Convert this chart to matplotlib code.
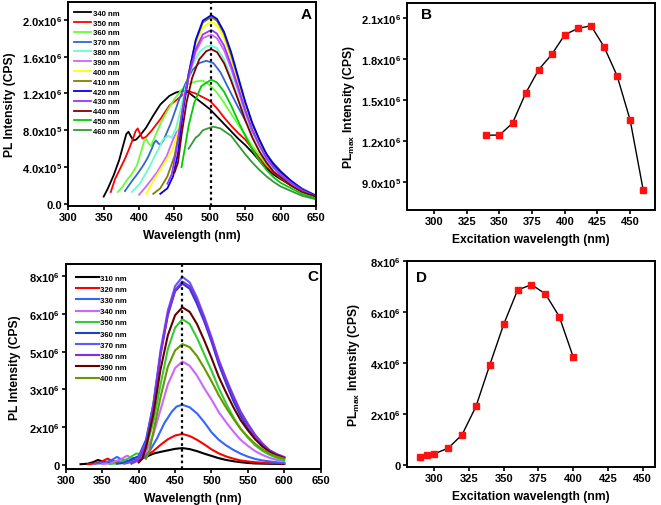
import matplotlib
import numpy as np

matplotlib.use("Agg")
import matplotlib.pyplot as plt  # noqa: E402

plt.rcParams["font.family"] = ["Liberation Sans", "DejaVu Sans"]
plt.rcParams["font.weight"] = "bold"
plt.rcParams["mathtext.fontset"] = "custom"
plt.rcParams["mathtext.rm"] = "Liberation Sans:bold"
plt.rcParams["mathtext.bf"] = "Liberation Sans:bold"
plt.rcParams["mathtext.it"] = "Liberation Sans:bold"
plt.rcParams["mathtext.default"] = "bf"

SCALE = 1e6

# ---- panel A: emission spectra, (wavelength nm, intensity x1e6) ----
a340 = [(350, 0.08), (356, 0.17), (364, 0.31), (372, 0.48), (378, 0.65), (382, 0.76), (385, 0.785),
        (388, 0.74), (392, 0.69), (396, 0.70), (401, 0.74), (410, 0.83), (420, 0.96), (430, 1.08),
        (443, 1.175), (452, 1.21), (462, 1.23), (470, 1.21), (480, 1.15), (490, 1.09), (500, 1.03),
        (510, 0.95), (520, 0.87), (530, 0.79), (540, 0.71), (550, 0.64), (560, 0.56), (570, 0.47),
        (580, 0.39), (590, 0.32), (600, 0.27), (615, 0.20), (630, 0.14), (650, 0.08)]
a350 = [(360, 0.13), (366, 0.27), (373, 0.38), (380, 0.49), (386, 0.60), (392, 0.72), (395, 0.79),
        (398, 0.82), (401, 0.77), (405, 0.71), (410, 0.73), (418, 0.80), (430, 0.92), (443, 1.07),
        (458, 1.16), (468, 1.23), (480, 1.20), (490, 1.16), (500, 1.12), (510, 1.04), (520, 0.94),
        (530, 0.85), (540, 0.77), (550, 0.70), (560, 0.60), (570, 0.50), (580, 0.41), (590, 0.34),
        (600, 0.28), (615, 0.20), (630, 0.14), (650, 0.08)]
a360 = [(370, 0.13), (376, 0.18), (382, 0.25), (390, 0.33), (397, 0.42), (403, 0.57), (407, 0.68),
        (410, 0.71), (413, 0.66), (417, 0.63), (425, 0.78), (432, 0.90), (439, 1.00), (450, 1.14),
        (460, 1.24), (470, 1.30), (480, 1.33), (490, 1.34), (500, 1.29), (510, 1.21), (520, 1.10),
        (530, 0.98), (540, 0.86), (550, 0.75), (560, 0.63), (570, 0.53), (580, 0.43), (590, 0.35),
        (600, 0.29), (615, 0.21), (630, 0.14), (650, 0.08)]
a370 = [(380, 0.14), (390, 0.25), (398, 0.33), (406, 0.42), (412, 0.50), (418, 0.60), (421, 0.66),
        (424, 0.69), (427, 0.66), (430, 0.64), (435, 0.70), (445, 0.88), (455, 1.10), (465, 1.30),
        (475, 1.45), (485, 1.53), (495, 1.555), (505, 1.53), (515, 1.43), (528, 1.23), (540, 1.05),
        (552, 0.88), (565, 0.72), (575, 0.60), (588, 0.46), (601, 0.35), (615, 0.25), (630, 0.17),
        (650, 0.09)]
a380 = [(390, 0.13), (401, 0.22), (413, 0.38), (425, 0.56), (434, 0.70), (441, 0.74), (446, 0.72),
        (452, 0.82), (458, 1.00), (465, 1.25), (475, 1.50), (485, 1.65), (495, 1.71), (502, 1.72),
        (510, 1.69), (520, 1.57), (530, 1.38), (540, 1.15), (550, 0.93), (560, 0.74), (570, 0.58),
        (580, 0.46), (590, 0.36), (600, 0.29), (615, 0.21), (630, 0.14), (650, 0.08)]
a390 = [(400, 0.10), (411, 0.20), (425, 0.34), (439, 0.52), (448, 0.70), (453, 0.78), (457, 0.82),
        (462, 1.05), (470, 1.38), (480, 1.65), (490, 1.80), (502, 1.84), (510, 1.80), (520, 1.67),
        (530, 1.47), (540, 1.23), (550, 0.99), (560, 0.79), (570, 0.63), (580, 0.49), (590, 0.39),
        (600, 0.31), (615, 0.22), (630, 0.15), (650, 0.08)]
a400 = [(410, 0.11), (420, 0.25), (434, 0.42), (448, 0.60), (455, 0.78), (462, 1.05), (470, 1.40),
        (480, 1.73), (490, 1.92), (502, 1.98), (510, 1.94), (520, 1.80), (530, 1.58), (540, 1.33),
        (550, 1.07), (560, 0.85), (570, 0.67), (580, 0.52), (590, 0.42), (600, 0.34), (615, 0.24),
        (630, 0.16), (650, 0.09)]
a410 = [(420, 0.11), (430, 0.17), (440, 0.30), (450, 0.52), (456, 0.75), (462, 1.05), (470, 1.42),
        (480, 1.77), (490, 1.97), (502, 2.03), (510, 1.99), (520, 1.85), (530, 1.62), (540, 1.36),
        (550, 1.10), (560, 0.87), (570, 0.69), (580, 0.54), (590, 0.43), (600, 0.35), (615, 0.24),
        (630, 0.16), (650, 0.09)]
a420 = [(430, 0.11), (440, 0.17), (448, 0.30), (455, 0.55), (462, 1.00), (470, 1.40), (480, 1.78),
        (490, 1.99), (502, 2.05), (510, 2.01), (520, 1.87), (530, 1.65), (540, 1.38), (550, 1.11),
        (560, 0.88), (570, 0.70), (580, 0.54), (590, 0.43), (600, 0.35), (615, 0.25), (630, 0.16),
        (650, 0.09)]
a430 = [(440, 0.22), (446, 0.32), (452, 0.55), (458, 0.85), (465, 1.20), (472, 1.45), (480, 1.68),
        (490, 1.84), (502, 1.89), (510, 1.85), (520, 1.72), (530, 1.51), (540, 1.27), (550, 1.02),
        (560, 0.81), (570, 0.64), (580, 0.50), (590, 0.40), (600, 0.32), (615, 0.23), (630, 0.15),
        (650, 0.08)]
a440 = [(450, 0.34), (455, 0.45), (460, 0.75), (467, 1.10), (475, 1.37), (485, 1.57), (495, 1.66),
        (502, 1.68), (510, 1.65), (520, 1.53), (530, 1.34), (540, 1.13), (550, 0.91), (560, 0.72),
        (570, 0.57), (580, 0.45), (590, 0.35), (600, 0.29), (615, 0.20), (630, 0.13), (650, 0.08)]
a450 = [(460, 0.40), (465, 0.62), (470, 0.85), (478, 1.10), (488, 1.28), (502, 1.35), (510, 1.32),
        (520, 1.22), (530, 1.07), (540, 0.90), (550, 0.74), (560, 0.59), (570, 0.47), (580, 0.37),
        (590, 0.29), (600, 0.23), (615, 0.17), (630, 0.11), (650, 0.06)]
a460 = [(470, 0.60), (475, 0.66), (480, 0.72), (485, 0.75), (490, 0.80), (497, 0.82), (505, 0.84),
        (515, 0.82), (530, 0.74), (540, 0.64), (550, 0.54), (560, 0.45), (570, 0.37), (580, 0.30),
        (590, 0.24), (600, 0.19), (615, 0.14), (630, 0.09), (650, 0.05)]
spectra_a = [a340, a350, a360, a370, a380, a390, a400, a410, a420, a430, a440, a450, a460]
labels_a = ["340 nm", "350 nm", "360 nm", "370 nm", "380 nm", "390 nm", "400 nm",
            "410 nm", "420 nm", "430 nm", "440 nm", "450 nm", "460 nm"]
colors_a = ["#000000", "#ff0000", "#66ff33", "#3366cc", "#66ffcc", "#cc66ff", "#ffff00",
            "#808000", "#0000ee", "#9933ff", "#800000", "#00cc00", "#339933"]

# ---- panel B: PL max vs excitation ----
ex_b = [340, 350, 360, 370, 380, 390, 400, 410, 420, 430, 440, 450, 460]
plmax_b = [1.242, 1.242, 1.330, 1.549, 1.723, 1.835, 1.980, 2.026, 2.046, 1.892, 1.678, 1.352, 0.838]

# ---- panel C: emission spectra ----
c310 = [(320, 0.03), (330, 0.05), (338, 0.12), (344, 0.20), (350, 0.14), (360, 0.10), (370, 0.10),
        (380, 0.12), (390, 0.16), (400, 0.22), (410, 0.32), (420, 0.45), (430, 0.52), (440, 0.58),
        (450, 0.64), (460, 0.67), (470, 0.63), (480, 0.55), (490, 0.45), (500, 0.36), (510, 0.27),
        (520, 0.20), (530, 0.15), (540, 0.11), (550, 0.08), (560, 0.06), (575, 0.05), (600, 0.04)]
c320 = [(330, 0.03), (340, 0.06), (350, 0.15), (357, 0.25), (363, 0.17), (370, 0.12), (380, 0.12),
        (390, 0.15), (400, 0.22), (410, 0.35), (420, 0.55), (430, 0.80), (440, 1.02), (450, 1.17),
        (460, 1.23), (470, 1.15), (480, 1.00), (490, 0.82), (500, 0.62), (510, 0.46), (520, 0.34),
        (530, 0.25), (540, 0.18), (550, 0.14), (560, 0.11), (575, 0.08), (600, 0.06)]
c330 = [(340, 0.05), (350, 0.07), (362, 0.18), (370, 0.32), (376, 0.22), (385, 0.14), (395, 0.15),
        (405, 0.25), (415, 0.55), (425, 1.05), (435, 1.65), (445, 2.10), (452, 2.32), (460, 2.39),
        (470, 2.29), (480, 2.05), (490, 1.70), (500, 1.30), (510, 1.00), (520, 0.78), (530, 0.60),
        (540, 0.45), (550, 0.33), (560, 0.24), (570, 0.18), (580, 0.14), (600, 0.08)]
c340 = [(350, 0.04), (360, 0.06), (375, 0.22), (384, 0.37), (390, 0.28), (400, 0.25), (410, 0.50),
        (420, 1.20), (430, 2.20), (440, 3.20), (450, 3.85), (460, 4.11), (470, 3.94), (480, 3.55),
        (490, 3.05), (500, 2.60), (510, 2.10), (520, 1.70), (530, 1.33), (540, 1.00), (550, 0.76),
        (560, 0.55), (570, 0.40), (580, 0.28), (590, 0.20), (600, 0.15)]
c350 = [(360, 0.04), (370, 0.06), (385, 0.25), (397, 0.46), (403, 0.40), (410, 0.65), (420, 1.70),
        (430, 3.20), (440, 4.60), (450, 5.45), (460, 5.79), (470, 5.60), (480, 5.05), (490, 4.40),
        (500, 3.75), (510, 3.05), (520, 2.45), (530, 1.90), (540, 1.45), (550, 1.08), (560, 0.78),
        (570, 0.56), (580, 0.40), (590, 0.28), (600, 0.20)]
c360 = [(370, 0.05), (380, 0.08), (392, 0.25), (400, 0.35), (410, 1.00), (420, 2.40), (430, 4.40),
        (440, 5.95), (450, 6.90), (460, 7.20), (470, 7.00), (480, 6.40), (490, 5.70), (500, 4.90),
        (510, 4.00), (520, 3.25), (530, 2.55), (540, 1.95), (550, 1.45), (560, 1.05), (570, 0.75),
        (580, 0.53), (590, 0.37), (600, 0.27)]
c370 = [(380, 0.05), (395, 0.15), (400, 0.30), (410, 0.90), (420, 2.39), (430, 4.56), (440, 6.13),
        (450, 7.10), (460, 7.47), (470, 7.25), (480, 6.65), (490, 5.90), (500, 5.08), (510, 4.18),
        (520, 3.44), (530, 2.76), (540, 2.13), (550, 1.64), (560, 1.20), (570, 0.86), (580, 0.58),
        (590, 0.43), (600, 0.31)]
c380 = [(390, 0.05), (400, 0.20), (410, 0.80), (420, 2.25), (430, 4.40), (440, 6.00), (450, 6.95),
        (460, 7.28), (470, 7.10), (480, 6.55), (490, 5.80), (500, 5.00), (510, 4.12), (520, 3.38),
        (530, 2.70), (540, 2.08), (550, 1.60), (560, 1.17), (570, 0.84), (580, 0.58), (590, 0.42),
        (600, 0.31)]
c390 = [(400, 0.10), (405, 0.25), (410, 0.70), (420, 2.00), (430, 3.80), (440, 5.15), (450, 5.95),
        (460, 6.26), (470, 6.08), (480, 5.60), (490, 4.95), (500, 4.25), (510, 3.50), (520, 2.88),
        (530, 2.30), (540, 1.78), (550, 1.38), (560, 1.02), (570, 0.74), (580, 0.52), (590, 0.38),
        (600, 0.28)]
c400 = [(410, 0.25), (415, 0.60), (420, 1.30), (430, 2.70), (440, 3.90), (450, 4.55), (460, 4.80),
        (470, 4.68), (480, 4.33), (490, 3.85), (500, 3.33), (510, 2.77), (520, 2.28), (530, 1.84),
        (540, 1.43), (550, 1.12), (560, 0.84), (570, 0.62), (580, 0.45), (590, 0.33), (600, 0.25)]
spectra_c = [c310, c320, c330, c340, c350, c360, c370, c380, c390, c400]
labels_c = ["310 nm", "320 nm", "330 nm", "340 nm", "350 nm",
            "360 nm", "370 nm", "380 nm", "390 nm", "400 nm"]
colors_c = ["#000000", "#ff0000", "#3366ff", "#cc66ff", "#33cc33",
            "#1f3fcf", "#5a5aff", "#8a2be2", "#660000", "#669900"]

# ---- panel D: PL max vs excitation ----
ex_d = [290, 295, 300, 310, 320, 330, 340, 350, 360, 370, 380, 390, 400]
plmax_d = [0.30, 0.37, 0.43, 0.65, 1.18, 2.29, 3.93, 5.52, 6.86, 7.07, 6.71, 5.82, 4.24]

W, H = 661, 506


def px_axes(fig, left, right, top, bottom):
    return fig.add_axes([left / W, 1 - bottom / H, (right - left) / W, (bottom - top) / H])


def style(ax, xticks, yticks, yticklabels, xlabel, ylabel, xpad, ypad):
    for s in ax.spines.values():
        s.set_linewidth(1.4)
    ax.set_xticks(xticks)
    ax.set_yticks(yticks)
    ax.set_yticklabels(yticklabels)
    ax.tick_params(direction="out", length=3, width=1.2, labelsize=8, pad=1.5)
    ax.set_xlabel(xlabel, fontsize=8.7, fontweight="bold", labelpad=xpad)
    ax.set_ylabel(ylabel, fontsize=8.7, fontweight="bold", labelpad=ypad)


fig = plt.figure(figsize=(W / 100, H / 100), dpi=100)

# A
ax = px_axes(fig, 68.3, 316, 3.3, 207)
for spec, lab, col in zip(spectra_a, labels_a, colors_a):
    wl, pl = zip(*spec)
    ax.plot(wl, np.array(pl) * SCALE, color=col, lw=1.3, label=lab)
ax.axvline(502, color="black", lw=1.6, ls=(0, (1.2, 1.4)))
ax.set_xlim(300, 650)
ax.set_ylim(-0.022 * SCALE, 2.19 * SCALE)
style(ax, range(300, 651, 50), np.array([0, 0.4, 0.8, 1.2, 1.6, 2.0]) * SCALE,
      ["0.0", r"4.0x10$^5$", r"8.0x10$^5$", r"1.2x10$^6$", r"1.6x10$^6$", r"2.0x10$^6$"],
      "Wavelength (nm)", "PL Intensity (CPS)", 5, 4)
ax.legend(loc="upper left", bbox_to_anchor=(0.024, 0.966), frameon=False, fontsize=5.6,
          handlelength=2.2, handletextpad=0.2, labelspacing=0.31, borderaxespad=0, borderpad=0)
ax.text(0.962, 0.943, "A", transform=ax.transAxes, fontsize=11, fontweight="bold",
        ha="center", va="center")

# B
ax = px_axes(fig, 407.3, 655, 4, 210.7)
ax.plot(ex_b, np.array(plmax_b) * SCALE, color="black", lw=1.0, marker="s", ms=5,
        mfc="#ff1111", mec="#ff1111")
ax.set_xlim(279.5, 469)
ax.set_ylim(0.694 * SCALE, 2.213 * SCALE)
style(ax, range(300, 451, 25), np.array([0.9, 1.2, 1.5, 1.8, 2.1]) * SCALE,
      [r"9.0x10$^5$", r"1.2x10$^6$", r"1.5x10$^6$", r"1.8x10$^6$", r"2.1x10$^6$"],
      "Excitation wavelength (nm)", r"PL$_{max}$ Intensity (CPS)", 5, 3)
ax.text(0.078, 0.947, "B", transform=ax.transAxes, fontsize=11, fontweight="bold",
        ha="center", va="center")

# C
ax = px_axes(fig, 66, 320.6, 265, 470)
for spec, lab, col in zip(spectra_c, labels_c, colors_c):
    wl, pl = zip(*spec)
    ax.plot(wl, np.array(pl) * SCALE, color=col, lw=1.5, label=lab)
ax.axvline(460, color="black", lw=1.6, ls=(0, (1.2, 1.4)))
ax.set_xlim(300, 650)
ax.set_ylim(-0.16 * SCALE, 7.98 * SCALE)
style(ax, range(300, 651, 50), np.array([0, 1.5, 3.0, 4.5, 6.0, 7.5]) * SCALE,
      ["0", r"2x10$^6$", r"3x10$^6$", r"5x10$^6$", r"6x10$^6$", r"8x10$^6$"],
      "Wavelength (nm)", "PL Intensity (CPS)", 5, 6)
ax.legend(loc="upper left", bbox_to_anchor=(0.04, 0.95), frameon=False, fontsize=5.6,
          handlelength=2.9, handletextpad=0.2, labelspacing=0.48, borderaxespad=0, borderpad=0)
ax.text(0.971, 0.943, "C", transform=ax.transAxes, fontsize=11, fontweight="bold",
        ha="center", va="center")

# D
ax = px_axes(fig, 407.3, 655, 262, 468)
ax.plot(ex_d, np.array(plmax_d) * SCALE, color="black", lw=1.0, marker="s", ms=5,
        mfc="#ff1111", mec="#ff1111")
ax.set_xlim(280.5, 459)
ax.set_ylim(-0.09 * SCALE, 8.0 * SCALE)
style(ax, range(300, 451, 25), np.array([0, 2, 4, 6, 8]) * SCALE,
      ["0", r"2x10$^6$", r"4x10$^6$", r"6x10$^6$", r"8x10$^6$"],
      "Excitation wavelength (nm)", r"PL$_{max}$ Intensity (CPS)", 5, 6)
ax.text(0.058, 0.921, "D", transform=ax.transAxes, fontsize=11, fontweight="bold",
        ha="center", va="center")

fig.savefig("out.png", dpi=100)
